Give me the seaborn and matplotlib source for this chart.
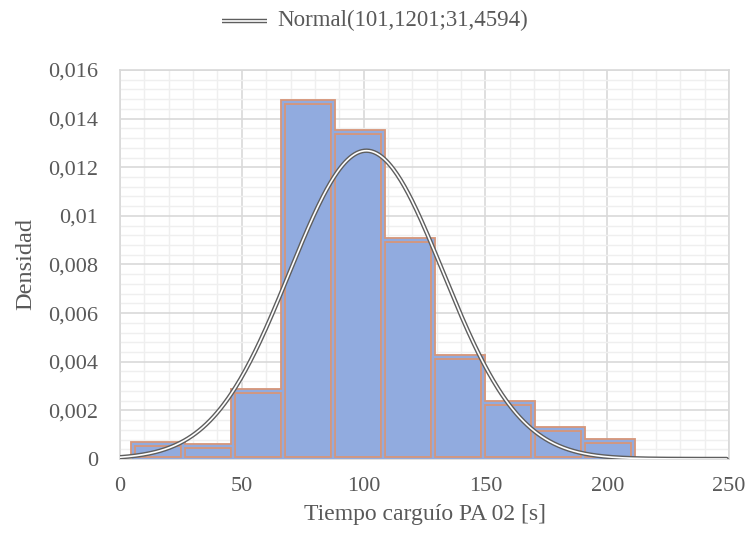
import numpy as np
import pandas as pd
import matplotlib
matplotlib.use("Agg")
import matplotlib.pyplot as plt
from matplotlib.ticker import MultipleLocator, FuncFormatter
from matplotlib.lines import Line2D
import seaborn as sns

# Histogram bins (seconds) and density per bin
bin_edges = [5.5, 26.0, 46.5, 67.0, 87.5, 108.0, 128.5, 149.0, 169.5, 190.0, 210.5]
densities = [0.00063, 0.00052, 0.0028, 0.0147, 0.01343, 0.0090, 0.0042, 0.0023, 0.00125, 0.00075]

# Fitted normal distribution
mu = 101.1201
sigma = 31.4594
legend_label = "Normal(101,1201;31,4594)"

x_label = "Tiempo carguío PA 02 [s]"
y_label = "Densidad"

sns.set_style("white")
plt.rcParams["font.family"] = ["Liberation Serif", "DejaVu Serif"]

text_color = "#595959"
bar_fill = "#91abdf"
bar_edge = "#d6967a"
curve_color = "#5e5e5e"

fig = plt.figure(figsize=(7.53, 5.40), dpi=100)
ax = fig.add_axes([0.1594, 0.15, 0.8088, 0.7204])

centers = [(a + b) / 2 for a, b in zip(bin_edges[:-1], bin_edges[1:])]
df = pd.DataFrame({"t": centers, "d": densities})

# Bars with a double orange outline: wide orange edge, then a thinner fill-coloured edge on top
sns.histplot(data=df, x="t", weights="d", bins=bin_edges, stat="count",
             color=bar_fill, alpha=1, edgecolor=bar_edge, linewidth=4.2, ax=ax, zorder=2)
sns.histplot(data=df, x="t", weights="d", bins=bin_edges, stat="count",
             color=bar_fill, alpha=1, edgecolor=bar_fill, linewidth=1.6, ax=ax, zorder=3,
             fill=False)

# Normal curve drawn as a double line
xs = np.linspace(0, 249, 500)
pdf = np.exp(-0.5 * ((xs - mu) / sigma) ** 2) / (sigma * np.sqrt(2 * np.pi))
curve_df = pd.DataFrame({"x": xs, "y": pdf})
sns.lineplot(data=curve_df, x="x", y="y", color=curve_color, linewidth=3.2, ax=ax, zorder=4)
sns.lineplot(data=curve_df, x="x", y="y", color="white", linewidth=1.2, ax=ax, zorder=5)

ax.set_xlim(0, 250)
ax.set_ylim(0, 0.016)
ax.xaxis.set_major_locator(MultipleLocator(50))
ax.xaxis.set_minor_locator(MultipleLocator(10))
ax.yaxis.set_major_locator(MultipleLocator(0.002))
ax.yaxis.set_minor_locator(MultipleLocator(0.0004))


def comma_fmt(v, pos):
    s = f"{v:.3f}".rstrip("0").rstrip(".")
    if s in ("0", "-0"):
        return "0"
    return s.replace(".", ",")


ax.yaxis.set_major_formatter(FuncFormatter(comma_fmt))
ax.xaxis.set_major_formatter(FuncFormatter(lambda v, p: f"{v:.0f}"))

ax.grid(which="major", color="#d9d9d9", linewidth=1.2, zorder=0)
ax.grid(which="minor", color="#efefef", linewidth=1.0, zorder=0)
ax.set_axisbelow(True)
for sp in ax.spines.values():
    sp.set_color("#d9d9d9")
    sp.set_linewidth(1.2)

ax.tick_params(which="both", length=0, labelsize=16, labelcolor=text_color)
ax.tick_params(axis="x", pad=13)
ax.tick_params(axis="y", pad=16)
ax.set_xlabel(x_label, fontsize=17, color=text_color, labelpad=6)
ax.set_ylabel(y_label, fontsize=17.5, color=text_color, labelpad=8)

# Legend entry above the plot: double line sample followed by the label
ly = 0.962
lx0, lx1 = 222 / 753, 267 / 753
fig.add_artist(Line2D([lx0, lx1], [ly, ly], transform=fig.transFigure,
                      color=curve_color, linewidth=3.2, solid_capstyle="butt"))
fig.add_artist(Line2D([lx0, lx1], [ly, ly], transform=fig.transFigure,
                      color="white", linewidth=1.2, solid_capstyle="butt"))
fig.text(277 / 753, ly, legend_label, ha="left", va="center",
         fontsize=16.5, color=text_color)

fig.savefig("out.png", dpi=100)
